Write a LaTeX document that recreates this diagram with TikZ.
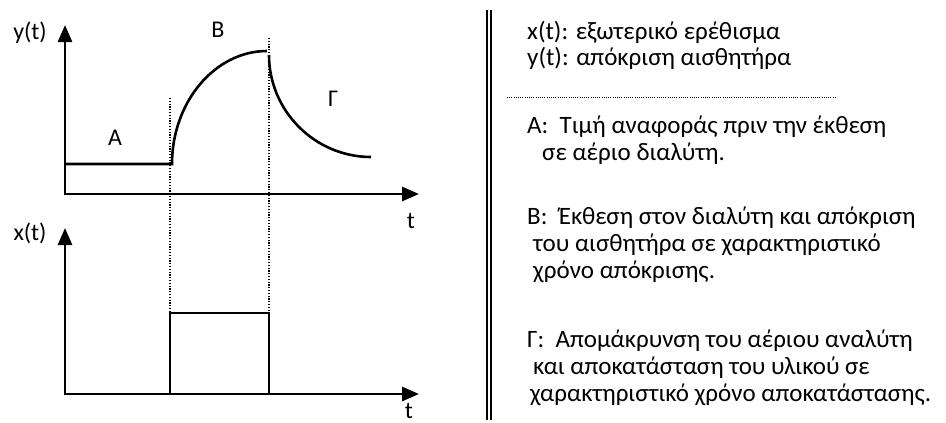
\documentclass[tikz,border=0pt]{standalone}
\usepackage{fontspec}
\setmainfont{Carlito}
\usetikzlibrary{arrows.meta}
\begin{document}
\begin{tikzpicture}[x=1pt,y=-1pt,
  axis/.style={line width=2.8pt,-{Triangle[length=17pt,width=14pt]}},
  curve/.style={line width=2.6pt},
  guide/.style={line width=1.1pt,dash pattern=on 1.2pt off 1.6pt},
  lbl/.style={font=\fontsize{24}{28}\selectfont,inner sep=0pt},
  txt/.style={font=\fontsize{25}{29}\selectfont,inner sep=0pt,anchor=west,text height=0.75em,text depth=0.25em}]
\useasboundingbox (0,0) rectangle (946,423);
% upper plot
\coordinate (yo) at (65,194);
\coordinate (ytop) at (65,25);
\coordinate (yright) at (419,194);
\draw[axis] (yo) -- (ytop);
\draw[axis] ([xshift=-1.4pt]yo) -- (yright);
\coordinate (a0) at (65,164);
\coordinate (a1) at (172,164);
\coordinate (b1) at (267,51);
\coordinate (g0) at (269,55);
\coordinate (g1) at (371,157);
\draw[curve] (a0) -- (a1) .. controls (172,102) and (215,51) .. (b1);
\draw[curve] (g0) .. controls (269,111) and (315,157) .. (g1);
\coordinate (d1t) at (170,98);
\coordinate (d1b) at (170,313);
\coordinate (d2t) at (269,38);
\coordinate (d2b) at (269,313);
\draw[guide] (d1t) -- (d1b);
\draw[guide] (d2t) -- (d2b);
\node[lbl] (ylab) at (30,33) {y(t)};
\node[lbl] (tup) at (411,221) {t};
\node[lbl] (labA) at (115,138) {A};
\node[lbl] (labB) at (218,30) {B};
\node[lbl] (labG) at (333,99) {Γ};
% lower plot
\coordinate (xo) at (65,394);
\coordinate (xtop) at (65,228);
\coordinate (xright) at (419,394);
\draw[axis] (xo) -- (xtop);
\draw[axis] ([xshift=-1.4pt]xo) -- (xright);
\draw[curve] (170,394) rectangle (269,313);
\node[lbl] (xlab) at (30,233) {x(t)};
\node[lbl] (tdown) at (409,411) {t};
% right panel
\draw[line width=1.6pt] (487,10) -- (487,420);
\draw[line width=1.6pt] (491,10) -- (491,420);
\draw[line width=0.9pt,dash pattern=on 0.9pt off 1.3pt] (507,97) -- (837,97);
\node[txt] (t1) at (527,37) {x(t): εξωτερικό ερέθισμα};
\node[txt] (t2) at (527,63) {y(t): απόκριση αισθητήρα};
\node[txt] (t3) at (527,131) {A:\ \ Τιμή αναφοράς πριν την έκθεση};
\node[txt] (t4) at (542,158) {σε αέριο διαλύτη.};
\node[txt] (t5) at (527,222) {B:\ \ Έκθεση στον διαλύτη και απόκριση};
\node[txt] (t6) at (533,249) {του αισθητήρα σε χαρακτηριστικό};
\node[txt] (t7) at (533,276) {χρόνο απόκρισης.};
\node[txt] (t8) at (527,345) {Γ:\ \ Απομάκρυνση του αέριου αναλύτη};
\node[txt] (t9) at (533,372) {και αποκατάσταση του υλικού σε};
\node[txt] (t10) at (530,399) {χαρακτηριστικό χρόνο αποκατάστασης.};
\end{tikzpicture}
\end{document}
